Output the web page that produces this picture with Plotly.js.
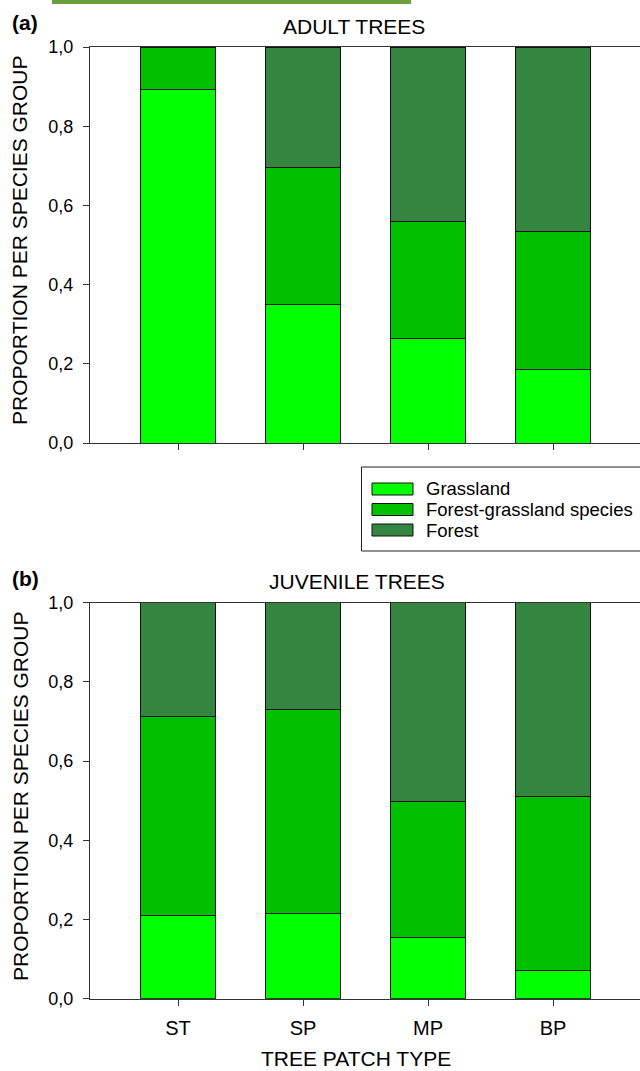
<!DOCTYPE html>
<html>
<head>
<meta charset="utf-8">
<script src="https://cdn.plot.ly/plotly-3.0.1.min.js"></script>
<style>html,body{margin:0;padding:0;background:#fff;}#chart{width:640px;height:1071px;}</style>
</head>
<body>
<div id="chart"></div>
<script>
// ---- data ----
var categories = ['ST', 'SP', 'MP', 'BP'];
var seriesNames = ['Grassland', 'Forest-grassland species', 'Forest'];
var adultGrassland = [0.893, 0.350, 0.263, 0.186];
var adultForestGrassland = [0.107, 0.346, 0.297, 0.347];
var adultForest = [0.000, 0.304, 0.440, 0.467];
var juvenileGrassland = [0.211, 0.215, 0.154, 0.072];
var juvenileForestGrassland = [0.502, 0.516, 0.343, 0.438];
var juvenileForest = [0.287, 0.269, 0.503, 0.490];
var panelTitles = ['ADULT TREES', 'JUVENILE TREES'];
var panelLabels = ['(a)', '(b)'];
var yTitle = 'PROPORTION PER SPECIES GROUP';
var xTitle = 'TREE PATCH TYPE';

// ---- style ----
var W = 640, H = 1071;
var colors = ['#00ff00', '#00c000', '#33853f'];
var FONT = 'Liberation Sans, Arial, sans-serif';
function X(px) { return px / W; }
function Y(py) { return 1 - py / H; }

function mk(vals, i, xa, ya) {
  return {
    type: 'bar', x: categories, y: vals, name: seriesNames[i],
    xaxis: xa, yaxis: ya, showlegend: false,
    marker: { color: colors[i], line: { color: '#111', width: 1 } },
    hoverinfo: 'x+y+name'
  };
}
var data = [
  mk(adultGrassland, 0, 'x', 'y'),
  mk(adultForestGrassland, 1, 'x', 'y'),
  mk(adultForest, 2, 'x', 'y'),
  mk(juvenileGrassland, 0, 'x2', 'y2'),
  mk(juvenileForestGrassland, 1, 'x2', 'y2'),
  mk(juvenileForest, 2, 'x2', 'y2')
];

var xCommon = {
  type: 'category', range: [-0.704, 3.696], domain: [X(90), 1],
  showline: true, mirror: true, linecolor: '#333', linewidth: 1,
  ticks: 'outside', ticklen: 6, tickcolor: '#333', showgrid: false, zeroline: false,
  tickfont: { family: FONT, size: 20, color: '#000' }, ticklabelstandoff: 5, fixedrange: true
};
var yCommon = {
  range: [0, 1], dtick: 0.2, tick0: 0, tickformat: '.1f',
  showline: true, linecolor: '#333', linewidth: 1,
  ticks: 'outside', ticklen: 6, tickcolor: '#333', showgrid: false, zeroline: false,
  tickfont: { family: FONT, size: 18, color: '#000' }, ticklabelstandoff: 6,
  fixedrange: true
};

var layout = {
  width: W, height: H,
  margin: { l: 0, r: 0, t: 0, b: 0 },
  paper_bgcolor: '#fff', plot_bgcolor: '#fff',
  barmode: 'stack', bargap: 0.4,
  separators: ',.',
  showlegend: false,
  font: { family: FONT, color: '#000' },
  xaxis: Object.assign({}, xCommon, { anchor: 'y', showticklabels: false }),
  yaxis: Object.assign({}, yCommon, { anchor: 'x', domain: [Y(443), Y(47)] }),
  xaxis2: Object.assign({}, xCommon, { anchor: 'y2', showticklabels: true }),
  yaxis2: Object.assign({}, yCommon, { anchor: 'x2', domain: [Y(998.7), Y(602.7)] }),
  shapes: [
    { type: 'rect', xref: 'paper', yref: 'paper', x0: X(52), x1: X(411), y0: Y(4), y1: Y(0),
      fillcolor: '#6a9f3c', line: { width: 0 } },
    { type: 'rect', xref: 'paper', yref: 'paper', x0: X(361.5), x1: X(641), y0: Y(551), y1: Y(467),
      fillcolor: 'rgba(0,0,0,0)', line: { color: '#222', width: 1 } }
  ],
  annotations: [
    { text: '<b>' + panelLabels[0] + '</b>', xref: 'paper', yref: 'paper', x: X(10), y: Y(22),
      xanchor: 'left', yanchor: 'middle', showarrow: false, font: { family: FONT, size: 21, color: '#000' } },
    { text: '<b>' + panelLabels[1] + '</b>', xref: 'paper', yref: 'paper', x: X(10), y: Y(578),
      xanchor: 'left', yanchor: 'middle', showarrow: false, font: { family: FONT, size: 21, color: '#000' } },
    { text: panelTitles[0], xref: 'paper', yref: 'paper', x: X(354), y: Y(26),
      xanchor: 'center', yanchor: 'middle', showarrow: false, font: { family: FONT, size: 21, color: '#000' } },
    { text: panelTitles[1], xref: 'paper', yref: 'paper', x: X(357), y: Y(581),
      xanchor: 'center', yanchor: 'middle', showarrow: false, font: { family: FONT, size: 21, color: '#000' } },
    { text: yTitle, xref: 'paper', yref: 'paper', x: X(20), y: Y(240), textangle: -90,
      xanchor: 'center', yanchor: 'middle', showarrow: false, font: { family: FONT, size: 21, color: '#000' } },
    { text: yTitle, xref: 'paper', yref: 'paper', x: X(20), y: Y(796), textangle: -90,
      xanchor: 'center', yanchor: 'middle', showarrow: false, font: { family: FONT, size: 21, color: '#000' } },
    { text: xTitle, xref: 'paper', yref: 'paper', x: X(356), y: 0, borderpad: 0,
      xanchor: 'center', yanchor: 'bottom', showarrow: false, font: { family: FONT, size: 21, color: '#000' } }
  ]
};

// custom legend (swatches + labels)
var rows = [489, 509.5, 530];
for (var i = 0; i < seriesNames.length; i++) {
  layout.shapes.push({ type: 'rect', xref: 'paper', yref: 'paper',
    x0: X(372), x1: X(413), y0: Y(rows[i] + 6), y1: Y(rows[i] - 6),
    fillcolor: colors[i], line: { color: '#111', width: 1 } });
  layout.annotations.push({ text: seriesNames[i], xref: 'paper', yref: 'paper',
    x: X(424), y: Y(rows[i]), xanchor: 'left', yanchor: 'middle', showarrow: false,
    font: { family: FONT, size: 18.5, color: '#000' } });
}

Plotly.newPlot('chart', data, layout, { displayModeBar: false, staticPlot: true });
</script>
</body>
</html>
